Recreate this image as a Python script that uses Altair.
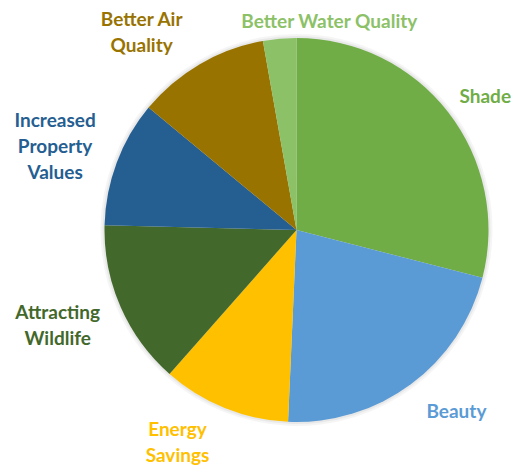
import altair as alt
import pandas as pd

categories = ["Shade", "Beauty", "Energy Savings", "Attracting Wildlife",
              "Increased Property Values", "Better Air Quality", "Better Water Quality"]
labels = ["Shade", "Beauty", "Energy\nSavings", "Attracting\nWildlife",
          "Increased\nProperty\nValues", "Better Air\nQuality", "Better Water Quality"]
values = [29.0, 21.7, 10.8, 13.9, 10.6, 11.2, 2.8]
colors = ["#70AD47", "#5B9BD5", "#FFC000", "#43682B", "#255E91", "#997300", "#8CC168"]

# label offsets (style): dx, dy from the slice mid-angle at label radius
label_radius = 230
offsets = [(7, 8), (23, -3), (-33, -13), (-28, -9), (-26, -28), (-39, -11), (53, 21)]

df = pd.DataFrame({
    "category": categories,
    "label": labels,
    "value": values,
    "order": list(range(len(categories))),
})
total = float(sum(values))
theta_scale = alt.Scale(domain=[0, total], range=[0, 6.283185307179586])
color_scale = alt.Scale(domain=categories, range=colors)

base = alt.Chart(df)

shadow = base.mark_arc(radius=196, color="#000000", opacity=0.04).encode(
    theta=alt.Theta("value:Q", stack=True, scale=theta_scale),
    order=alt.Order("order:Q"),
)
shadow2 = base.mark_arc(radius=194, color="#000000", opacity=0.05).encode(
    theta=alt.Theta("value:Q", stack=True, scale=theta_scale),
    order=alt.Order("order:Q"),
)

pie = base.mark_arc(radius=192).encode(
    theta=alt.Theta("value:Q", stack=True, scale=theta_scale),
    color=alt.Color("category:N", scale=color_scale, legend=None),
    order=alt.Order("order:Q"),
)

layers = [shadow, shadow2, pie]
for cat, (dx, dy), col in zip(categories, offsets, colors):
    t = (
        base.transform_window(cum="sum(value)", sort=[alt.SortField("order")])
        .transform_calculate(mid="datum.cum - datum.value / 2")
        .transform_filter(alt.datum.category == cat)
        .mark_text(radius=label_radius, dx=dx, dy=dy, font="Lato", fontWeight="bold",
                   fontSize=19, color=col, lineBreak="\n", lineHeight=26,
                   align="center", baseline="middle")
        .encode(
            theta=alt.Theta("mid:Q", scale=theta_scale, stack=None),
            text="label:N",
        )
    )
    layers.append(t)

chart = alt.layer(*layers).properties(
    width=386, height=386,
    autosize=alt.AutoSizeParams(type="none"),
    padding={"left": 95.5, "top": 29, "right": 21.5, "bottom": 42},
).configure_view(stroke=None)

chart.save("out.html", embed_options={"renderer": "svg", "actions": False})
